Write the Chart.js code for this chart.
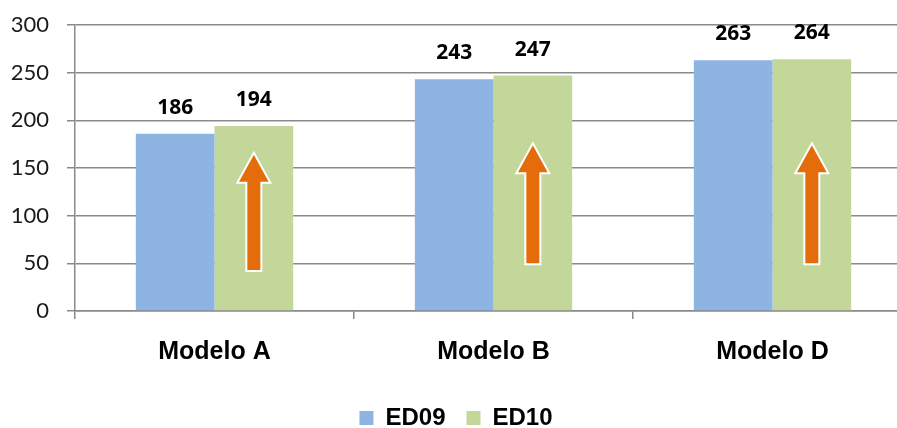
<!DOCTYPE html>
<html>
<head>
<meta charset="utf-8">
<script src="https://cdn.jsdelivr.net/npm/chart.js@4.4.1/dist/chart.umd.min.js"></script>
<style>
  html, body { margin: 0; padding: 0; background: #fff; overflow: hidden; }
  #wrap { width: 930px; height: 440px; }
</style>
</head>
<body>
<div id="wrap"><canvas id="modelChart"></canvas></div>
<script>
const categories = ['Modelo A', 'Modelo B', 'Modelo D'];
const ed09 = [186, 243, 263];
const ed10 = [194, 247, 264];
const yTicks = [0, 50, 100, 150, 200, 250, 300];
// orange arrows drawn inside the ED10 bars (value units)
const arrowFrom = [42, 49, 49];
const arrowTo = [166, 176, 176];

const barLabels = {
    id: 'barLabels',
    afterDatasetsDraw(chart) {
        const ctx = chart.ctx;
        ctx.save();
        ctx.font = 'bold 21px "Noto Sans"';
        ctx.fillStyle = '#000000';
        ctx.textAlign = 'center';
        ctx.textBaseline = 'middle';
        chart.data.datasets.forEach((ds, i) => {
            chart.getDatasetMeta(i).data.forEach((bar, j) => {
                ctx.fillText(ds.data[j], bar.x, bar.y - 26);
            });
        });
        ctx.restore();
    }
};

const upArrows = {
    id: 'upArrows',
    afterDatasetsDraw(chart) {
        const ctx = chart.ctx;
        const y = chart.scales.y;
        const bars = chart.getDatasetMeta(1).data;
        ctx.save();
        bars.forEach((bar, j) => {
            const cx = bar.x;
            const top = y.getPixelForValue(arrowTo[j]);
            const bottom = y.getPixelForValue(arrowFrom[j]);
            const headLen = 30, headW = 16.5, shaftW = 7.5;
            ctx.beginPath();
            ctx.moveTo(cx, top);
            ctx.lineTo(cx + headW, top + headLen);
            ctx.lineTo(cx + shaftW, top + headLen);
            ctx.lineTo(cx + shaftW, bottom);
            ctx.lineTo(cx - shaftW, bottom);
            ctx.lineTo(cx - shaftW, top + headLen);
            ctx.lineTo(cx - headW, top + headLen);
            ctx.closePath();
            ctx.fillStyle = '#E46C0A';
            ctx.fill();
            ctx.lineWidth = 2;
            ctx.strokeStyle = '#ffffff';
            ctx.stroke();
        });
        ctx.restore();
    }
};

new Chart(document.getElementById('modelChart'), {
    type: 'bar',
    data: {
        labels: categories,
        datasets: [
            { label: 'ED09', data: ed09, backgroundColor: '#8EB4E3', borderWidth: 0 },
            { label: 'ED10', data: ed10, backgroundColor: '#C4D79B', borderWidth: 0 }
        ]
    },
    options: {
        responsive: true,
        maintainAspectRatio: false,
        animation: false,
        layout: { padding: { top: 25, right: 18, left: 0, bottom: 0 } },
        datasets: { bar: { categoryPercentage: 0.564, barPercentage: 1.0 } },
        scales: {
            x: {
                grid: { drawOnChartArea: false, drawTicks: true, tickLength: 8, color: '#8a8a8a', lineWidth: 1.5, offset: true },
                border: { display: true, color: '#8a8a8a', width: 1.5 },
                ticks: { color: '#000000', padding: 18, font: { family: 'Liberation Sans', size: 25, weight: 'bold' } }
            },
            y: {
                min: 0,
                max: 300,
                afterBuildTicks(scale) { scale.ticks = yTicks.map(v => ({ value: v })); },
                afterFit(scale) {
                    scale.width = 75;
                    scale.paddingTop = 0;
                    scale.paddingBottom = 0;
                },
                grid: { color: '#8a8a8a', lineWidth: 1.5, tickLength: 8 },
                border: { display: true, color: '#8a8a8a', width: 1.5 },
                ticks: { color: '#1a1a1a', padding: 18, font: { family: 'Lato', size: 22 } }
            }
        },
        plugins: {
            legend: {
                position: 'bottom',
                labels: {
                    boxWidth: 14,
                    boxHeight: 14,
                    padding: 21,
                    color: '#000000',
                    font: { family: 'Liberation Sans', size: 24, weight: 'bold' }
                }
            },
            tooltip: { enabled: false }
        }
    },
    plugins: [barLabels, upArrows]
});
</script>
</body>
</html>
